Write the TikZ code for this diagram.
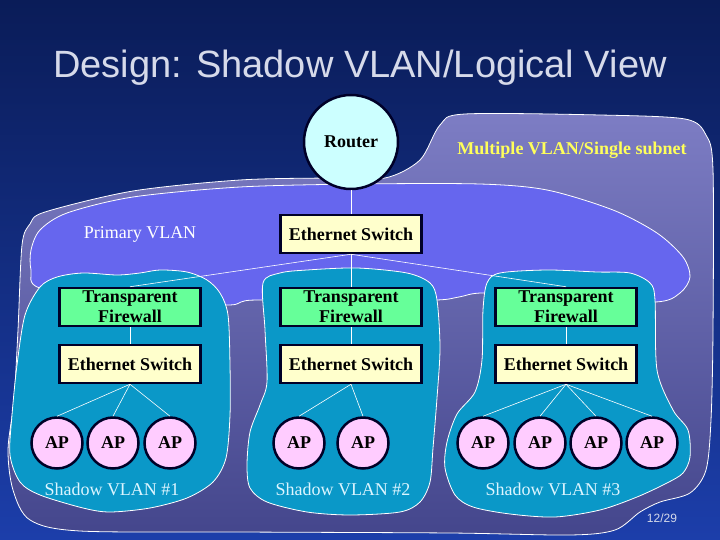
\documentclass[tikz,border=0pt]{standalone}
\usepackage{fontspec}
\setmainfont{Liberation Serif}
\newfontfamily\slidefont{Liberation Sans}
\definecolor{bgtop}{RGB}{10,28,88}
\definecolor{bgbot}{RGB}{28,62,170}
\definecolor{subtop}{RGB}{125,125,196}
\definecolor{subbot}{RGB}{68,70,140}
\definecolor{primfill}{RGB}{102,102,238}
\definecolor{shadfill}{RGB}{10,152,200}
\definecolor{boxline}{RGB}{0,0,40}
\definecolor{rtrfill}{RGB}{204,255,255}
\definecolor{swfill}{RGB}{255,255,204}
\definecolor{fwfill}{RGB}{102,255,153}
\definecolor{apfill}{RGB}{255,204,255}
\definecolor{titlecol}{RGB}{214,218,234}
\definecolor{multicol}{RGB}{255,255,90}
\definecolor{shadtext}{RGB}{220,245,255}
\tikzset{
  txt/.style={font=\fontsize{18}{20}\selectfont},
  devbox/.style={draw=boxline, line width=2.5pt, align=center, inner sep=0pt,
    font=\fontsize{18}{20}\selectfont\bfseries},
  switchbox/.style={devbox, fill=swfill, minimum width=141pt, minimum height=38pt},
  fwbox/.style={devbox, fill=fwfill, minimum width=141pt, minimum height=38pt},
  rtrnode/.style={devbox, circle, fill=rtrfill, minimum size=94pt},
  apnode/.style={devbox, circle, fill=apfill, minimum size=51pt},
  link/.style={white, line width=0.6pt},
  zone/.style={draw=white, line width=0.8pt}
}
\begin{document}
\begin{tikzpicture}[x=1pt,y=-1pt]
\useasboundingbox (0,0) rectangle (720,540);
\shade[top color=bgtop, bottom color=bgbot] (0,0) rectangle (720,540);
\node[font=\slidefont\fontsize{38}{40}\selectfont, text=titlecol] (title) at (360,68) {Design: Shadow VLAN/Logical View};
% single subnet
\shadedraw[zone, top color=subtop, bottom color=subbot] plot[smooth cycle, tension=0.5] coordinates {
  (45,212) (133,191) (240,180) (330,178) (385,178) (420,160) (440,125) (465,114)
  (600,115) (685,119) (706,135) (713,170) (713,330) (711,420) (706,470) (690,493)
  (660,502) (640,512) (615,530) (570,535) (450,533) (240,532) (80,531) (30,520)
  (13,490) (8,450) (14,400) (18,330) (22,245) (30,224)};
% primary vlan
\filldraw[zone, fill=primfill] plot[smooth cycle, tension=0.5] coordinates {
  (40,230) (67,213) (133,197) (240,187) (360,184) (480,184) (547,190) (613,210)
  (657,233) (683,257) (690,277) (680,293) (655,302) (560,298) (484,293) (459,297)
  (436,300) (350,300) (257,300) (241,302) (225,305) (130,300) (40,288) (31,270) (31,250)};
% shadow vlans
\filldraw[zone, fill=shadfill] plot[smooth cycle, tension=0.5] coordinates {
  (40,287) (57,277) (83,273) (117,275) (140,273) (160,270) (187,272) (207,280)
  (220,293) (228,315) (230,365) (230,415) (226,458) (213,482) (187,498) (150,508)
  (110,512) (83,508) (40,495) (20,482) (10,455) (12,415) (17,365) (25,315)};
\filldraw[zone, fill=shadfill] plot[smooth cycle, tension=0.5] coordinates {
  (263,283) (280,273) (307,270) (357,268) (407,273) (430,283) (437,300) (440,348)
  (437,398) (433,448) (430,482) (420,502) (400,512) (350,515) (307,512) (267,502)
  (250,488) (247,465) (250,432) (260,405) (267,382) (265,330)};
\filldraw[zone, fill=shadfill] plot[smooth cycle, tension=0.5] coordinates {
  (487,283) (500,273) (547,270) (597,272) (630,273) (650,283) (655,300) (657,370)
  (673,410) (688,430) (690,457) (683,473) (667,483) (637,497) (600,510) (555,517)
  (510,514) (473,507) (455,495) (445,468) (447,442) (457,414) (475,392) (482,360) (483,310)};
% devices
\node[rtrnode] (rtr) at (351,142) {Router};
\node[switchbox] (sw0) at (351,234) {Ethernet Switch};
\foreach \n/\x in {1/130,2/351,3/566} {
  \node[fwbox] (fw\n) at (\x,307) {Transparent\\Firewall};
  \node[switchbox] (sw\n) at (\x,364) {Ethernet Switch};
}
\foreach \n/\x in {1/57,2/113,3/170,4/299,5/363,6/483,7/540,8/596,9/652}
  \node[apnode] (ap\n) at (\x,443) {AP};
% links
\draw[link] (rtr) -- (sw0);
\foreach \n in {1,2,3} {
  \draw[link] (sw0.south) -- (fw\n.north);
  \draw[link] (fw\n) -- (sw\n);
}
\foreach \n/\s in {1/1,2/1,3/1,4/2,5/2,6/3,7/3,8/3,9/3}
  \draw[link] (sw\s.south) -- (ap\n.north);
% labels
\node[txt, text=white] (prim) at (140,234) {Primary VLAN};
\node[font={\fontsize{18}{20}\selectfont\bfseries}, text=multicol] (multi) at (572,150) {Multiple VLAN/Single subnet};
\node[txt, text=shadtext] (sh1) at (112,489) {Shadow VLAN \#1};
\node[txt, text=shadtext] (sh2) at (343,489) {Shadow VLAN \#2};
\node[txt, text=shadtext] (sh3) at (553,489) {Shadow VLAN \#3};
\node[font=\slidefont\fontsize{12}{14}\selectfont, text=titlecol] (page) at (662,518) {12/29};
\end{tikzpicture}
\end{document}
